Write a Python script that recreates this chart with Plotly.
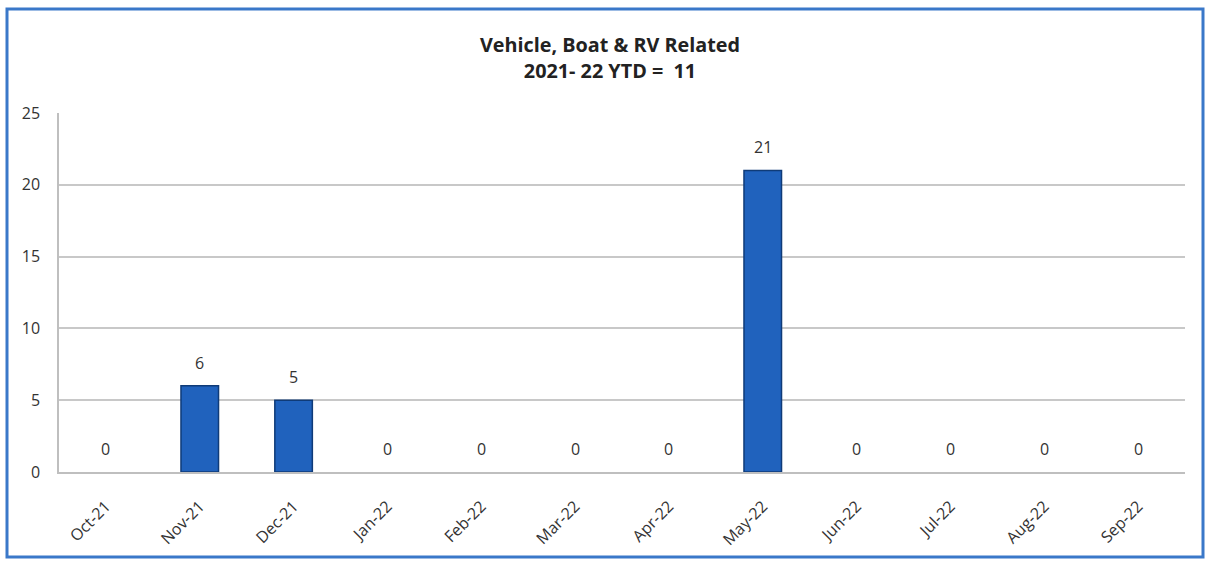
import plotly.graph_objects as go

months = ["Oct-21", "Nov-21", "Dec-21", "Jan-22", "Feb-22", "Mar-22",
          "Apr-22", "May-22", "Jun-22", "Jul-22", "Aug-22", "Sep-22"]
counts = [0, 6, 5, 0, 0, 0, 0, 21, 0, 0, 0, 0]
y_ticks = [0, 5, 10, 15, 20, 25]

W, H = 1209, 562
L, R, T, B = 59, 24, 113, 90
pw, ph = W - L - R, H - T - B

def px_x(p):
    return (p - L) / pw

def px_y(p):
    return (H - B - p) / ph

FONT = "Open Sans, Liberation Sans, sans-serif"

fig = go.Figure()
fig.add_trace(go.Bar(
    x=months, y=counts,
    width=0.4,
    marker=dict(
        color="#2062bd",
        line=dict(color="#0f3b78", width=[0 if v == 0 else 1.5 for v in counts]),
    ),
    hoverinfo="x+y",
))

for m, v in zip(months, counts):
    fig.add_annotation(
        x=m, y=v, text=str(v), showarrow=False,
        yanchor="bottom", yshift=10,
        font=dict(family=FONT, size=16, color="#333333"),
    )

fig.update_layout(
    width=W, height=H,
    margin=dict(l=L, r=R, t=T, b=B),
    paper_bgcolor="white", plot_bgcolor="white",
    showlegend=False,
    font=dict(family=FONT, size=15, color="#333333"),
    title=dict(
        text="<b>Vehicle, Boat & RV Related<br>2021- 22 YTD =  11</b>",
        x=610 / W, xanchor="center",
        y=1 - 52 / H, yanchor="top",
        font=dict(size=19.8, color="#222222", family=FONT),
    ),
    xaxis=dict(
        tickangle=-45, showgrid=False, automargin=False,
        showline=True, linecolor="#bfbfbf", linewidth=1.5,
        ticks="", tickfont=dict(size=16), ticklabelstandoff=17,
    ),
    yaxis=dict(
        range=[0, 25], tickvals=y_ticks, showgrid=True, automargin=False,
        gridcolor="#c8c8c8", gridwidth=1.5,
        showline=True, linecolor="#bfbfbf", linewidth=1.5,
        ticks="", ticklabelstandoff=14, zeroline=False,
        tickfont=dict(size=16),
    ),
    bargap=0.6,
)

fig.add_shape(
    type="rect", xref="paper", yref="paper",
    x0=px_x(7), x1=px_x(1203), y0=px_y(557), y1=px_y(9),
    line=dict(color="#3a78c9", width=3), fillcolor="rgba(0,0,0,0)", layer="above",
)

fig.write_html(
    "out.html",
    config={"displayModeBar": False},
    post_script="document.body.style.margin='0';document.body.style.padding='0';",
)
